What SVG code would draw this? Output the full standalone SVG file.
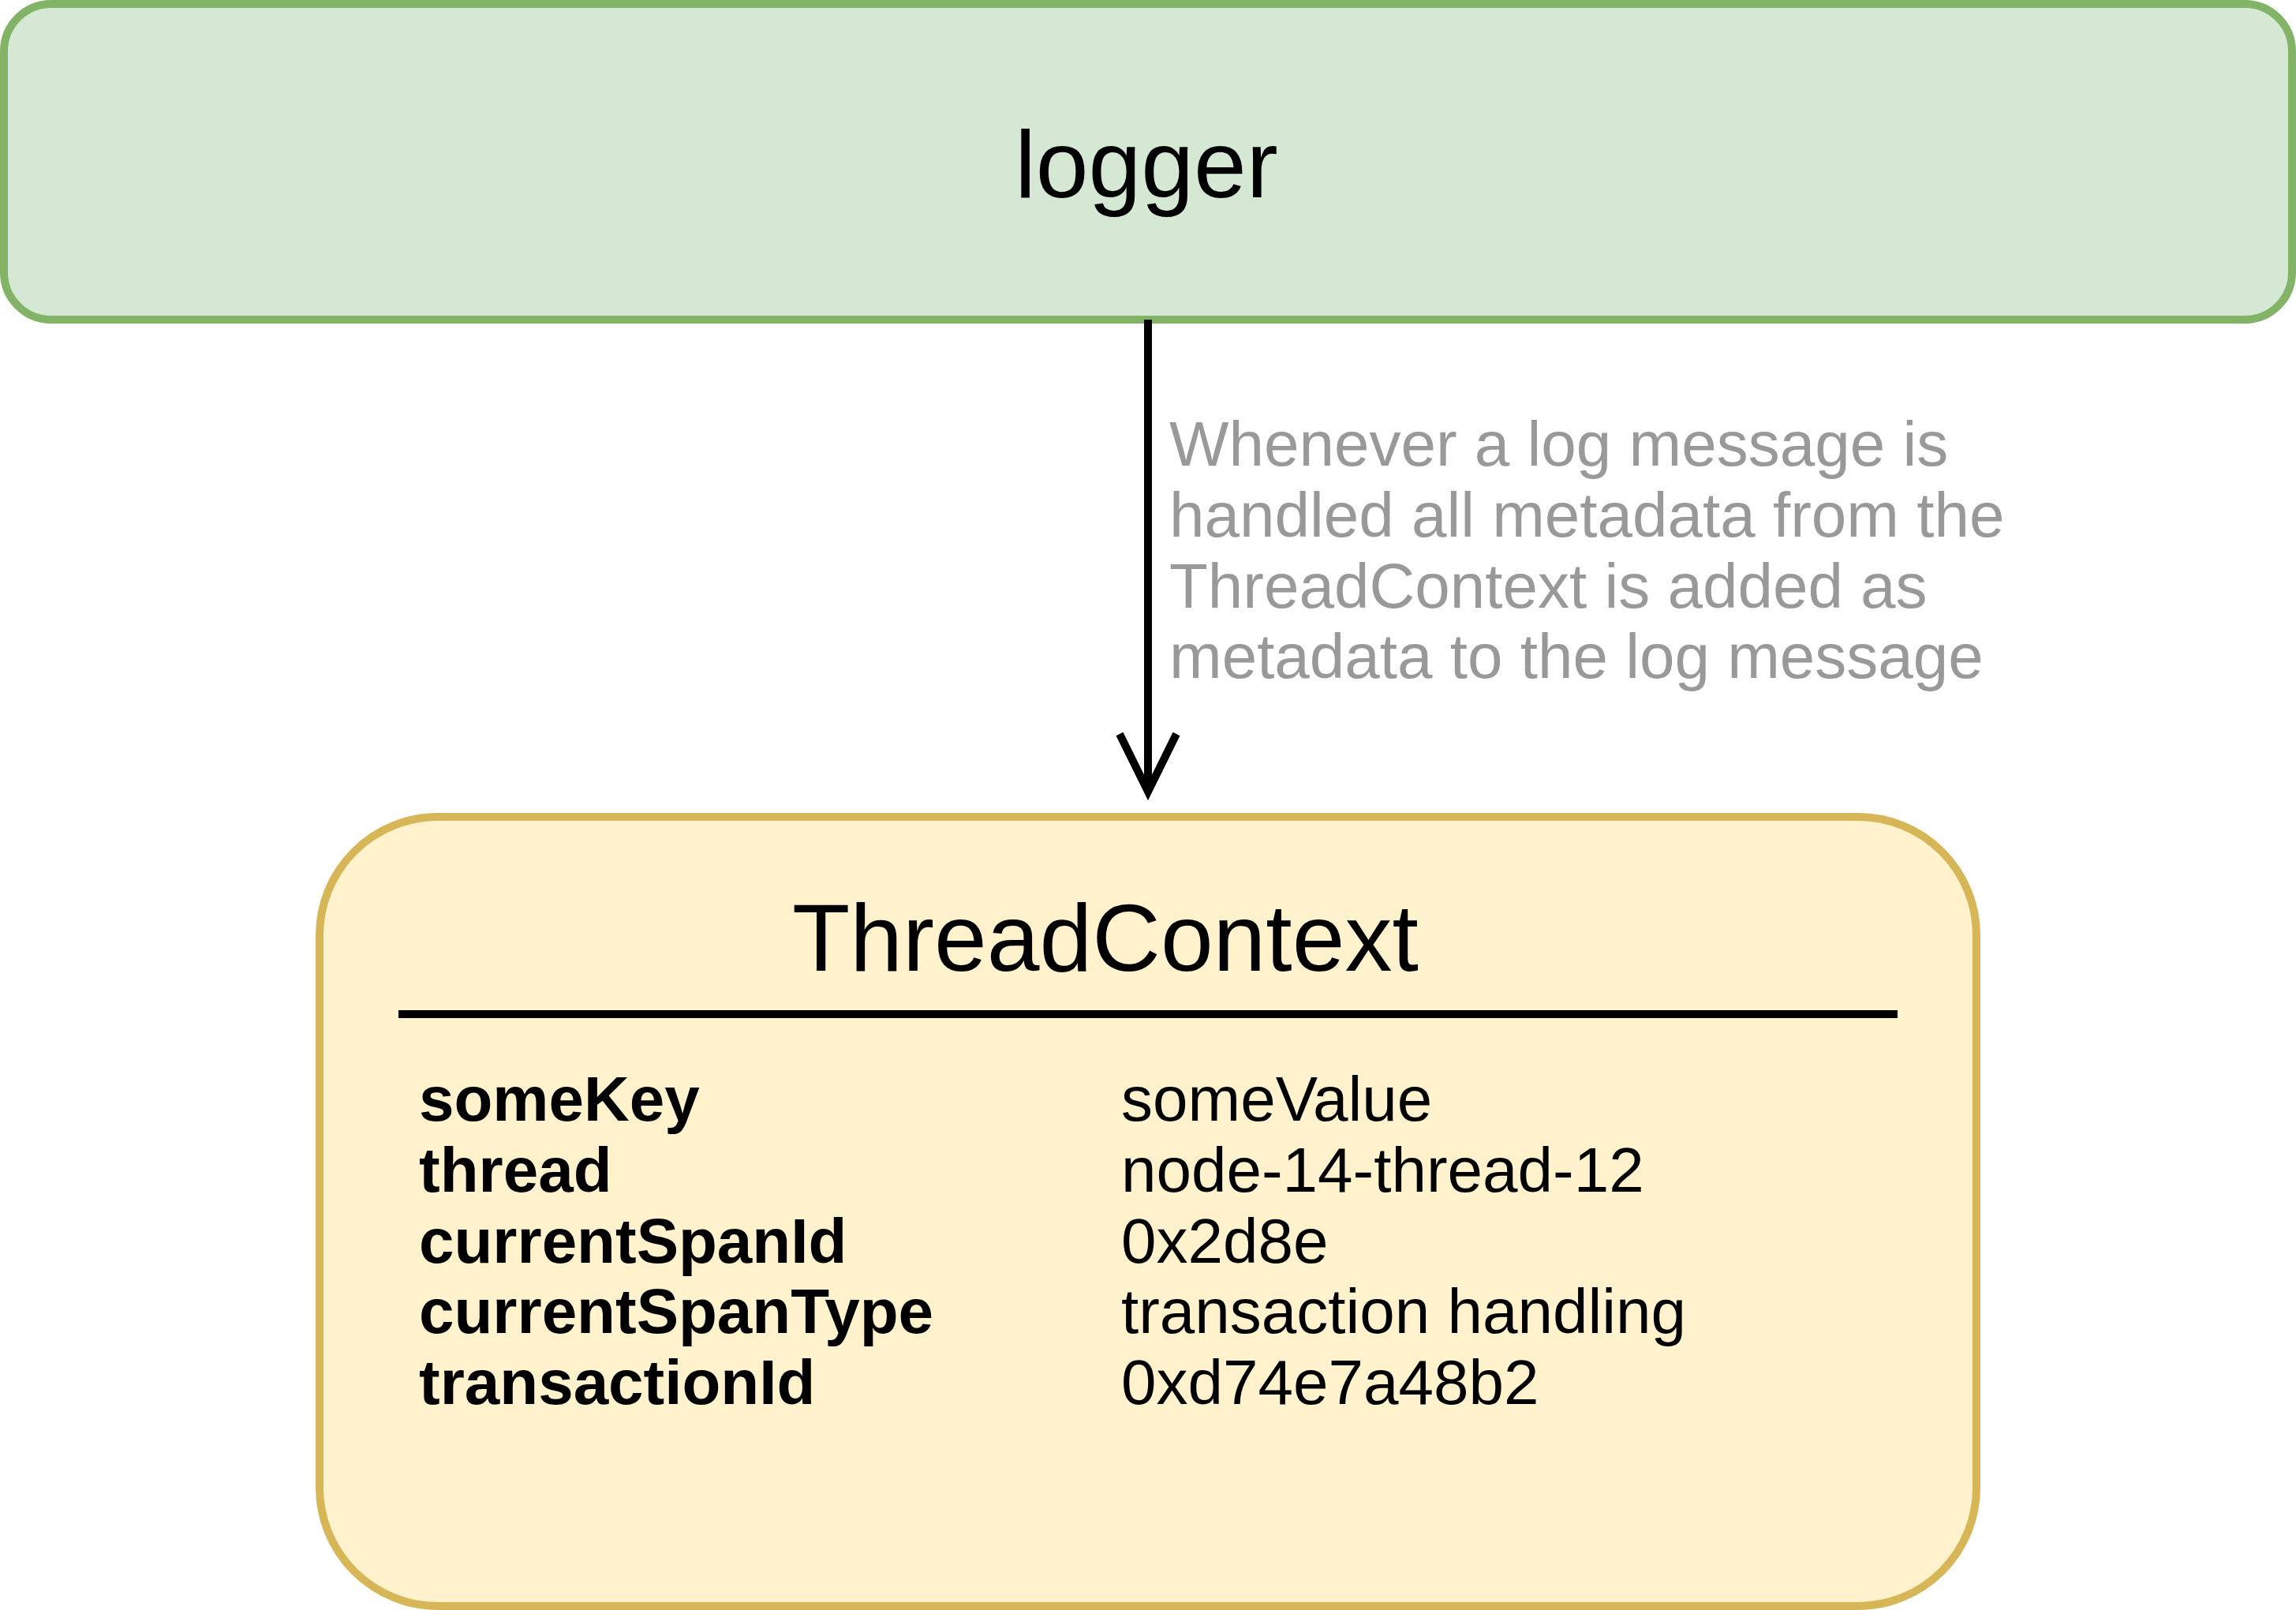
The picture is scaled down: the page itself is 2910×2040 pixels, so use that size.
<svg xmlns="http://www.w3.org/2000/svg" width="2910" height="2040" viewBox="0 0 2910 2040">
<style>
text{font-family:"Liberation Sans",Arial,Helvetica,sans-serif;}
.title{font-size:120px;fill:#000000;}
.label{font-size:80px;fill:#999999;}
.key{font-size:80px;font-weight:bold;fill:#000000;}
.val{font-size:80px;fill:#000000;}
</style>
<defs>
<marker id="openArrow" markerUnits="userSpaceOnUse" markerWidth="100" markerHeight="100" viewBox="-50 -50 100 100" refX="0" refY="0" orient="auto">
<path d="M-36 -75 L0 0 L36 -75" transform="rotate(-90)" fill="none" stroke="#000000" stroke-width="10"/>
</marker>
</defs>
<rect width="2910" height="2040" fill="#ffffff"/>
<g id="logger">
<rect x="5" y="5" width="2900" height="400" rx="60" ry="60" fill="#d5e8d4" stroke="#82b366" stroke-width="10"/>
<text class="title" x="1453" y="250" text-anchor="middle">logger</text>
</g>
<g id="connectors">
<line x1="1455" y1="405" x2="1455" y2="1003" stroke="#000000" stroke-width="10"/>
<polyline points="1419,930 1455,1003 1491,930" fill="none" stroke="#000000" stroke-width="10"/>
<text class="label" x="1482" y="590">Whenever a log message is</text>
<text class="label" x="1482" y="680">handled all metadata from the</text>
<text class="label" x="1482" y="770">ThreadContext is added as</text>
<text class="label" x="1482" y="859">metadata to the log message</text>
</g>
<g id="threadcontext">
<rect x="405" y="1035" width="2100" height="1000" rx="150" ry="150" fill="#fff2cc" stroke="#d6b656" stroke-width="10"/>
<text class="title" x="1004" y="1230">ThreadContext</text>
<line x1="505" y1="1285" x2="2405" y2="1285" stroke="#000000" stroke-width="10"/>
<text class="key" x="531" y="1420">someKey</text>
<text class="key" x="531" y="1510">thread</text>
<text class="key" x="531" y="1600">currentSpanId</text>
<text class="key" x="531" y="1689">currentSpanType</text>
<text class="key" x="531" y="1779">transactionId</text>
<text class="val" x="1421" y="1420">someValue</text>
<text class="val" x="1421" y="1510">node-14-thread-12</text>
<text class="val" x="1421" y="1600">0x2d8e</text>
<text class="val" x="1421" y="1689">transaction handling</text>
<text class="val" x="1421" y="1779">0xd74e7a48b2</text>
</g>
</svg>
